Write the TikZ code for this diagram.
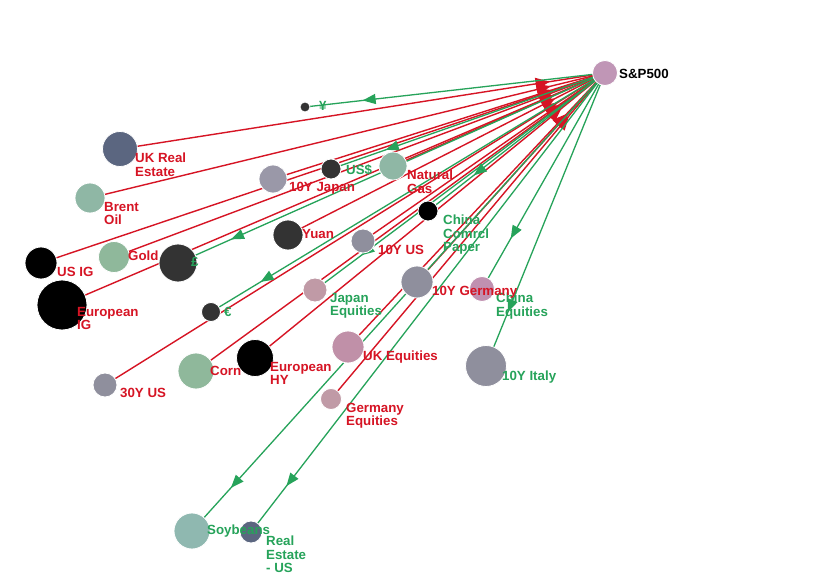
\documentclass[tikz,border=0pt]{standalone}
\usepackage{fontspec}
\setmainfont{Liberation Sans}
\usetikzlibrary{arrows.meta,decorations.markings}
\pgfdeclarelayer{bg}
\pgfdeclarelayer{edges}
\pgfsetlayers{bg,edges,main}
\definecolor{myred}{RGB}{214,20,36}
\definecolor{mygreen}{RGB}{38,163,90}
\definecolor{dk}{RGB}{51,51,51}
\definecolor{slate}{RGB}{91,102,128}
\definecolor{sage}{RGB}{143,183,165}
\definecolor{sageb}{RGB}{143,184,155}
\definecolor{teal}{RGB}{143,184,176}
\definecolor{gry}{RGB}{143,143,157}
\definecolor{gryb}{RGB}{154,152,168}
\definecolor{pinka}{RGB}{192,154,166}
\definecolor{pinkb}{RGB}{192,144,176}
\definecolor{pinkc}{RGB}{192,144,168}
\definecolor{pinksp}{RGB}{192,150,182}
\tikzset{
  ball/.style={circle, inner sep=0pt, minimum size=#1, draw=white, line width=0.8pt},
  lbl/.style={anchor=north west, inner sep=0pt, align=left,
    font=\fontsize{13.3}{13.5}\selectfont\bfseries},
  rl/.style={lbl, text=myred},
  gl/.style={lbl, text=mygreen},
  redline/.style={draw=myred, line width=1.4pt, postaction={decorate},
    decoration={markings, mark=at position -56pt with {\arrow{Triangle[length=14pt,width=12pt,color=myred]}}}},
  greenline/.style={draw=mygreen, line width=1.3pt, postaction={decorate},
    decoration={markings, mark=at position -58pt with {\arrow{Triangle[length=13pt,width=10pt,color=mygreen]}}}}
}
\begin{document}
\begin{tikzpicture}[x=1pt,y=-1pt]
\begin{pgfonlayer}{bg}
\fill[white] (0,0) rectangle (830,585);
\end{pgfonlayer}
\useasboundingbox (0,0) rectangle (830,585);
% nodes
\node[ball=25pt, fill=pinksp] (sp) at (605,73) {};
\node[ball=10pt, fill=dk] (yen) at (305,107) {};
\node[ball=35pt, fill=slate] (ukre) at (120,149) {};
\node[ball=30pt, fill=sage] (brent) at (90,198) {};
\node[ball=32pt, fill=black] (usig) at (41,263) {};
\node[ball=50pt, fill=black] (euig) at (62,305) {};
\node[ball=31pt, fill=sageb] (gold) at (114,257) {};
\node[ball=38pt, fill=dk] (gbp) at (178,263) {};
\node[ball=19pt, fill=dk] (eur) at (211,312) {};
\node[ball=24pt, fill=gry] (ytus) at (105,385) {};
\node[ball=36pt, fill=sageb] (corn) at (196,371) {};
\node[ball=37pt, fill=black] (euhy) at (255,358) {};
\node[ball=28pt, fill=gryb] (yjp) at (273,179) {};
\node[ball=20pt, fill=dk] (usd) at (331,169) {};
\node[ball=28pt, fill=sage] (ngas) at (393,166) {};
\node[ball=30pt, fill=dk] (yuan) at (288,235) {};
\node[ball=24pt, fill=gry] (yus) at (363,241) {};
\node[ball=20pt, fill=black] (ccp) at (428,211) {};
\node[ball=24pt, fill=pinka] (jpeq) at (315,290) {};
\node[ball=32pt, fill=gry] (yde) at (417,282) {};
\node[ball=25pt, fill=pinkb] (cneq) at (482,289) {};
\node[ball=32pt, fill=pinkc] (ukeq) at (348,347) {};
\node[ball=21pt, fill=pinka] (deeq) at (331,399) {};
\node[ball=41pt, fill=gry] (yit) at (486,366) {};
\node[ball=36pt, fill=teal] (soy) at (192,531) {};
\node[ball=22pt, fill=slate] (reus) at (251,532) {};
% edges
\begin{pgfonlayer}{edges}
\foreach \n in {ukre,brent,usig,euig,gold,yjp,ngas,yuan,yus,yde,ytus,corn,euhy,ukeq,deeq}
  \draw[redline] (\n.center) -- (sp.center);
\foreach \n in {yen,usd,gbp,eur,ccp,jpeq,cneq,yit,soy,reus}
  \draw[greenline] (sp.center) -- (\n.center);
\end{pgfonlayer}
% labels
\node[lbl] (lsp) at (619,69) {S\&P500};
\node[gl] (lyen) at (319,101) {¥};
\node[rl] (lukre) at (135,153) {UK Real\\Estate};
\node[rl] (lbrent) at (104,202) {Brent\\Oil};
\node[rl] (lusig) at (57,267) {US IG};
\node[rl] (leuig) at (77,307) {European\\IG};
\node[rl] (lgold) at (128,251) {Gold};
\node[gl] (lgbp) at (191,257) {£};
\node[gl] (leur) at (224,307) {€};
\node[rl] (lytus) at (120,388) {30Y US};
\node[rl] (lcorn) at (210,366) {Corn};
\node[rl] (leuhy) at (270,362) {European\\HY};
\node[rl] (lyjp) at (289,182) {10Y Japan};
\node[gl] (lusd) at (346,164) {US\$};
\node[rl] (lngas) at (407,170) {Natural\\Gas};
\node[rl] (lyuan) at (302,229) {Yuan};
\node[rl] (lyus) at (378,245) {10Y US};
\node[gl] (lccp) at (443,215) {China\\Comrcl\\Paper};
\node[gl] (ljpeq) at (330,293) {Japan\\Equities};
\node[gl] (lcneq) at (496,293) {China\\Equities};
\node[rl] (lyde) at (432,286) {10Y Germany};
\node[rl] (lukeq) at (363,351) {UK Equities};
\node[rl] (ldeeq) at (346,403) {Germany\\Equities};
\node[gl] (lyit) at (502,371) {10Y Italy};
\node[gl] (lsoy) at (207,525) {Soybeans};
\node[gl] (lreus) at (266,536) {Real\\Estate\\- US};
\end{tikzpicture}
\end{document}
